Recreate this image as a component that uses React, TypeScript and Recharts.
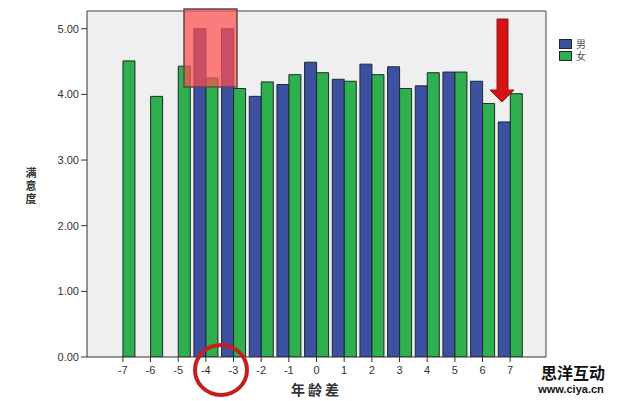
import React from 'react';
import {
  BarChart,
  Bar,
  XAxis,
  YAxis,
  CartesianGrid,
  Legend,
} from 'recharts';

const categories = ['-7', '-6', '-5', '-4', '-3', '-2', '-1', '0', '1', '2', '3', '4', '5', '6', '7'];
const maleValues = [null, null, null, 5.0, 5.0, 3.97, 4.15, 4.49, 4.23, 4.46, 4.42, 4.13, 4.34, 4.2, 3.58];
const femaleValues = [4.51, 3.97, 4.43, 4.25, 4.09, 4.19, 4.3, 4.33, 4.2, 4.3, 4.09, 4.33, 4.34, 3.86, 4.01];
const yTicks = [0, 1, 2, 3, 4, 5];
const seriesOrder = ['male', 'female'];

const data = categories.map((cat, i) => ({
  cat,
  male: maleValues[i],
  female: femaleValues[i],
}));

const BLUE = '#3d51a3';
const GREEN = '#2eb04f';
const EDGE = '#1d2a30';
const tickFont = { fontSize: 11, fill: '#333', fontFamily: 'Liberation Sans, Arial, sans-serif' };

const YLabel = ({ viewBox }: any) => {
  const cx = viewBox.x + 31;
  const cy = viewBox.y + viewBox.height / 2;
  return (
    <text
      fontFamily="Noto Sans CJK SC"
      fontWeight={700}
      fontSize={11}
      fill="#333"
      textAnchor="middle"
    >
      {['满', '意', '度'].map((ch, i) => (
        <tspan key={ch} x={cx} y={cy - 7 + i * 13}>
          {ch}
        </tspan>
      ))}
    </text>
  );
};

const XLabel = ({ viewBox }: any) => (
  <text
    x={viewBox.x + viewBox.width / 2}
    y={viewBox.y + 38}
    fontFamily="Noto Sans CJK SC"
    fontWeight={700}
    fontSize={14}
    letterSpacing={3}
    fill="#333"
    textAnchor="middle"
  >
    年龄差
  </text>
);

const LegendBox = ({ payload }: any) => {
  const items = [...(payload || [])].sort(
    (a: any, b: any) => seriesOrder.indexOf(a.dataKey) - seriesOrder.indexOf(b.dataKey)
  );
  return (
    <div style={{ fontFamily: 'Noto Sans CJK SC', fontSize: 10, lineHeight: '12px', color: '#555' }}>
      {items.map((p: any) => (
        <div key={p.value} style={{ display: 'flex', alignItems: 'center', height: 12 }}>
          <span
            style={{
              display: 'inline-block',
              width: 11,
              height: 8,
              background: p.color,
              border: `1px solid ${EDGE}`,
              marginRight: 4,
            }}
          />
          {p.value}
        </div>
      ))}
    </div>
  );
};

export default function App() {
  return (
    <div style={{ position: 'fixed', left: 0, top: 0, width: 640, height: 401, background: '#fff' }}>
      <BarChart
        width={640}
        height={401}
        data={data}
        margin={{ top: 10, right: 93, bottom: 0, left: 0 }}
        barCategoryGap="7%"
        barGap={0}
      >
        <CartesianGrid fill="#efefef" stroke="none" horizontal={false} vertical={false} />
        <XAxis
          dataKey="cat"
          height={44}
          padding={{ left: 22, right: 22 }}
          tick={tickFont}
          tickSize={5}
          tickMargin={4}
          stroke="#333"
          interval={0}
          label={{ value: '年龄差', content: XLabel }}
        />
        <XAxis
          xAxisId="top"
          dataKey="cat"
          orientation="top"
          height={1}
          tick={false}
          tickLine={false}
          stroke="#444"
        />
        <YAxis
          width={87}
          domain={[0, 5.27]}
          ticks={yTicks}
          tickFormatter={(v: number) => v.toFixed(2)}
          tick={tickFont}
          tickSize={6}
          tickMargin={2}
          stroke="#333"
          allowDataOverflow
          label={{ value: '满意度', content: YLabel }}
        />
        <YAxis
          yAxisId="right"
          orientation="right"
          width={1}
          tick={false}
          tickLine={false}
          stroke="#444"
        />
        <Legend
          layout="vertical"
          align="center"
          verticalAlign="middle"
          content={LegendBox}
          wrapperStyle={{ position: 'absolute', left: 559, top: 38, width: 40 }}
        />
        <Bar dataKey="male" name="男" fill={BLUE} stroke={EDGE} strokeWidth={1} isAnimationActive={false} />
        <Bar dataKey="female" name="女" fill={GREEN} stroke={EDGE} strokeWidth={1} isAnimationActive={false} />
      </BarChart>

      {/* annotations drawn over the chart */}
      <svg
        width={640}
        height={401}
        style={{ position: 'absolute', left: 0, top: 0, pointerEvents: 'none' }}
      >
        <rect x={184} y={9} width={53} height={78} fill="#ff4f4f" fillOpacity={0.72} stroke="#5a4a50" strokeWidth={1.5} />
        <ellipse cx={221} cy={370} rx={26} ry={25} fill="none" stroke="#c41f1f" strokeWidth={4} />
        <polygon
          points="497,19 508,19 508,90 514,90 502,102 490,90 497,90"
          fill="#d31414"
          stroke="#8a1a1a"
          strokeWidth={1}
        />
        <text
          x={573}
          y={379}
          textAnchor="middle"
          fontFamily="Noto Sans CJK SC"
          fontWeight={700}
          fontSize={16}
          fill="#111"
          stroke="#fff"
          strokeWidth={2}
          paintOrder="stroke"
        >
          思洋互动
        </text>
        <text
          x={571}
          y={393}
          textAnchor="middle"
          fontFamily="Liberation Sans, Arial, sans-serif"
          fontWeight={700}
          fontSize={11}
          fill="#111"
          stroke="#fff"
          strokeWidth={2}
          paintOrder="stroke"
        >
          www.ciya.cn
        </text>
      </svg>
    </div>
  );
}
